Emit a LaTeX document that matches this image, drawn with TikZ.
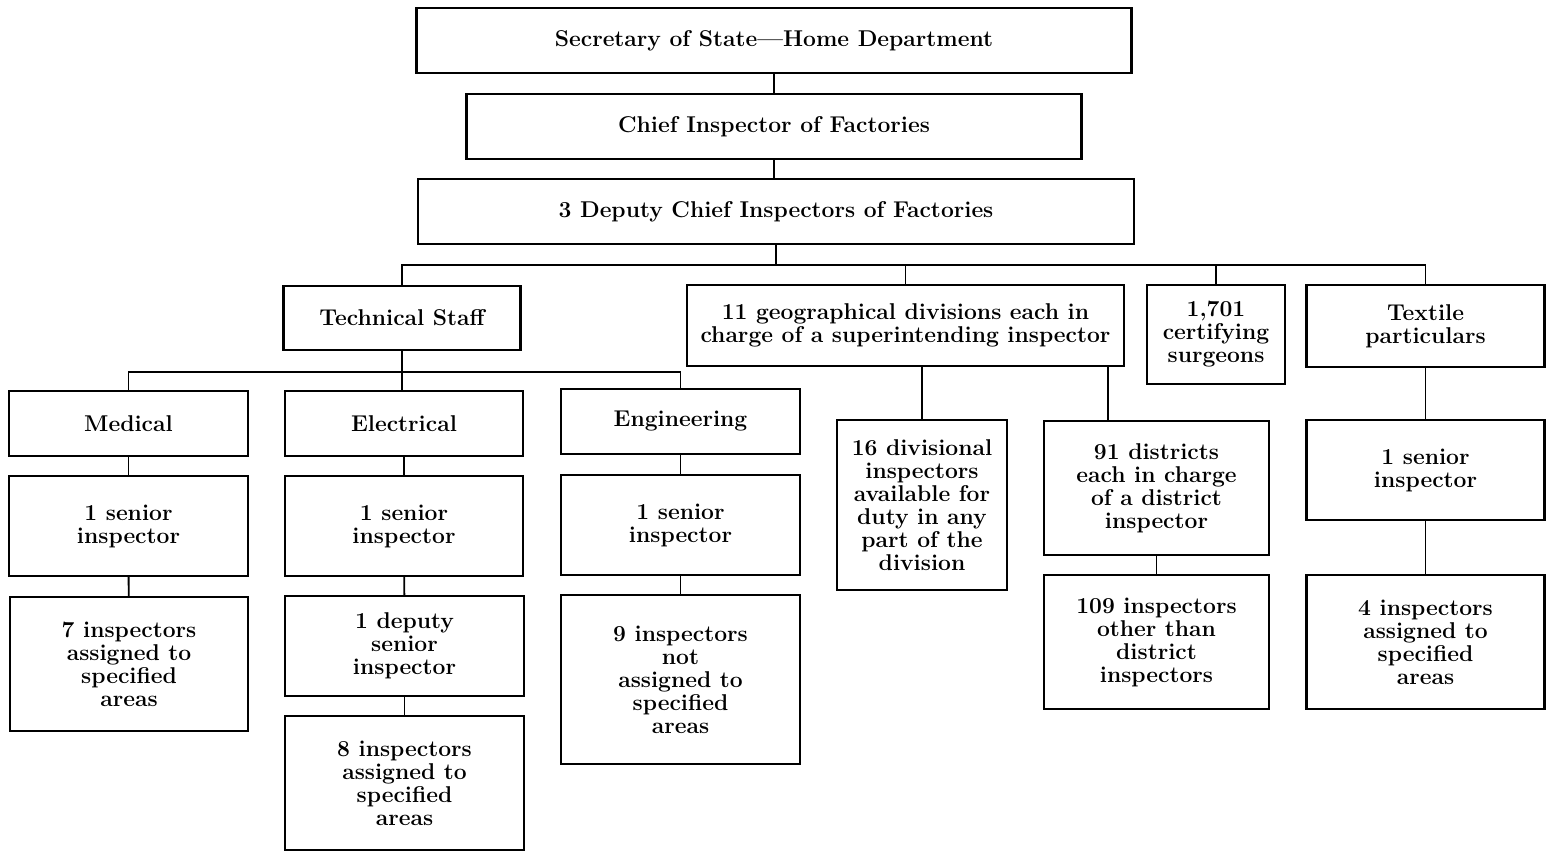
\documentclass[tikz,border=0pt]{standalone}
\usepackage{tikz}

\tikzset{
  unit/.style 2 args={draw, line width=1.4pt, align=center, inner sep=0pt,
    minimum width=#1cm, minimum height=#2cm, font=\fontsize{13}{13.1}\selectfont\bfseries},
  link/.style={line width=1.1pt}
}

\begin{document}
\begin{tikzpicture}[x=0.02cm, y=-0.02cm]
  \useasboundingbox (0,0) rectangle (1546,853);
  \node[unit={14.3}{1.3}]   (sec)    at (774,40.5) {Secretary of State---Home Department};
  \node[unit={12.3}{1.3}]   (chief)  at (774,126.5) {Chief Inspector of Factories};
  \node[unit={14.32}{1.3}]  (deputy) at (776,211.5) {3 Deputy Chief Inspectors of Factories};
  \node[unit={4.74}{1.28}]  (tech)   at (402,318) {Technical Staff};
  \node[unit={8.74}{1.62}]  (geo)    at (905.5,325.5) {11 geographical divisions each in\\ charge of a superintending inspector};
  \node[unit={2.76}{1.98}]  (surg)   at (1216,334.5) {1,701\\ certifying\\ surgeons};
  \node[unit={4.76}{1.64}]  (tex)    at (1425.5,326) {Textile\\ particulars};
  \node[unit={4.78}{1.3}]   (med)    at (128.5,423.5) {Medical};
  \node[unit={4.76}{1.3}]   (ele)    at (404,423.5) {Electrical};
  \node[unit={4.78}{1.3}]   (eng)    at (680.5,421.5) {Engineering};
  \node[unit={4.78}{2.0}]   (meds)   at (128.5,526) {1 senior\\ inspector};
  \node[unit={4.76}{2.0}]   (eles)   at (404,526) {1 senior\\ inspector};
  \node[unit={4.78}{2.0}]   (engs)   at (680.5,525) {1 senior\\ inspector};
  \node[unit={4.76}{2.68}]  (medi)   at (129,664) {7 inspectors\\ assigned to\\ specified\\ areas};
  \node[unit={4.78}{2.0}]   (eled)   at (404.5,646) {1 deputy\\ senior\\ inspector};
  \node[unit={4.78}{2.68}]  (elei)   at (404.5,783) {8 inspectors\\ assigned to\\ specified\\ areas};
  \node[unit={4.78}{3.38}]  (engi)   at (680.5,679.5) {9 inspectors\\ not\\ assigned to\\ specified\\ areas};
  \node[unit={3.4}{3.4}]    (div)    at (922,505) {16 divisional\\ inspectors\\ available for\\ duty in any\\ part of the\\ division};
  \node[unit={4.5}{2.68}]   (dist)   at (1156.5,488) {91 districts\\ each in charge\\ of a district\\ inspector};
  \node[unit={4.5}{2.68}]   (disti)  at (1156.5,642) {109 inspectors\\ other than\\ district\\ inspectors};
  \node[unit={4.76}{2.0}]   (texs)   at (1425.5,470) {1 senior\\ inspector};
  \node[unit={4.76}{2.68}]  (texi)   at (1425.5,642) {4 inspectors\\ assigned to\\ specified\\ areas};
  \coordinate (bus) at (0,265);
  \coordinate (tbus) at (0,372);
  \path[every edge/.style={draw, link}]
  (sec) edge (chief)
  (chief.south) edge (chief.south |- deputy.north)
  (med) edge (meds)
  (meds) edge (medi)
  (ele) edge (eles)
  (eles) edge (eled)
  (eled) edge (elei)
  (eng) edge (engs)
  (engs) edge (engi)
  (dist) edge (disti)
  (tex) edge (texs)
  (texs) edge (texi)
  (geo.south -| div.north) edge (div.north)
  ([xshift=-0.34cm]geo.south east) edge ([xshift=-0.34cm]geo.south east |- dist.north)
  ;
  \draw[link] (deputy.south) -- (deputy.south |- bus);
  \draw[link] (tech.north) |- (tex.north |- bus) -- (tex.north);
  \draw[link] (geo.north) -- (geo.north |- bus);
  \draw[link] (surg.north) -- (surg.north |- bus);
  \draw[link] (tech.south) -- (tech.south |- ele.north);
  \draw[link] (med.north) |- (eng.north |- tbus) -- (eng.north);
\end{tikzpicture}
\end{document}
